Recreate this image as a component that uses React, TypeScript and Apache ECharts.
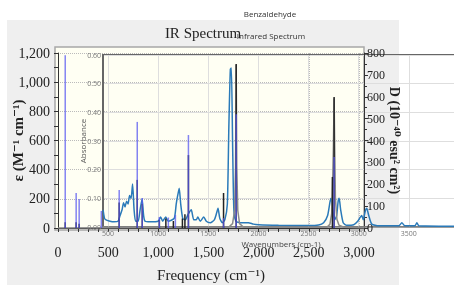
import React, { useEffect, useRef } from 'react';
import * as echarts from 'echarts';

// Calculated stick spectrum: molar absorptivity ε (left axis)
const epsFreqs = [72, 181, 211, 610, 790, 840, 1010, 1075, 1150, 1240, 1265, 1300, 1650, 1776, 2735, 2752];
const epsValues = [40, 40, 30, 175, 330, 165, 55, 65, 48, 65, 95, 500, 240, 1125, 350, 898];

// Calculated stick spectrum: dipole strength D (right axis)
const dipFreqs = [72, 181, 211, 432, 610, 790, 840, 1010, 1100, 1170, 1300, 1650, 1776, 2752];
const dipValues = [790, 160, 133, 78, 174, 485, 137, 50, 48, 60, 425, 45, 520, 325];

// Broadened calculated spectrum (ε)
const calcFreqs = [0, 1700, 1740, 1760, 1770, 1776, 1782, 1792, 1810, 1850, 2680, 2710, 2728, 2738, 2745, 2752, 2758, 2765, 2780, 2800, 2850, 3050];
const calcEps = [0, 5, 30, 120, 420, 1120, 420, 120, 30, 5, 5, 25, 100, 330, 560, 890, 560, 200, 60, 20, 5, 0];

// Experimental IR spectrum of benzaldehyde (absorbance)
const irFreqs = [451, 465, 480, 520, 560, 600, 620, 640, 655, 670, 685, 700, 715, 730, 745, 760, 775, 800, 820, 840, 855, 870, 920, 1000, 1025, 1045, 1075, 1100, 1160, 1180, 1195, 1210, 1225, 1245, 1270, 1300, 1330, 1355, 1380, 1395, 1420, 1455, 1480, 1520, 1560, 1580, 1597, 1615, 1640, 1665, 1690, 1705, 1720, 1730, 1742, 1755, 1775, 1820, 1900, 1950, 2000, 2200, 2500, 2600, 2650, 2690, 2715, 2725, 2740, 2760, 2780, 2795, 2805, 2820, 2845, 2880, 2950, 2990, 3030, 3045, 3065, 3080, 3100, 3130, 3200, 3400, 3430, 3460, 3560, 3580, 3600, 3800, 4000];
const irAbs = [0.06, 0.03, 0.025, 0.02, 0.018, 0.02, 0.04, 0.06, 0.085, 0.07, 0.09, 0.08, 0.11, 0.1, 0.15, 0.06, 0.02, 0.02, 0.06, 0.098, 0.04, 0.02, 0.018, 0.02, 0.035, 0.02, 0.035, 0.02, 0.03, 0.08, 0.11, 0.135, 0.08, 0.03, 0.025, 0.045, 0.06, 0.025, 0.025, 0.035, 0.02, 0.035, 0.02, 0.015, 0.025, 0.045, 0.065, 0.03, 0.015, 0.025, 0.08, 0.35, 0.55, 0.555, 0.3, 0.06, 0.02, 0.015, 0.015, 0.01, 0.008, 0.006, 0.005, 0.007, 0.015, 0.04, 0.09, 0.1, 0.06, 0.025, 0.04, 0.09, 0.1, 0.06, 0.015, 0.006, 0.008, 0.02, 0.04, 0.025, 0.055, 0.065, 0.04, 0.01, 0.004, 0.004, 0.015, 0.004, 0.004, 0.015, 0.004, 0.003, 0.003];

const SERIF = '"Liberation Serif", "DejaVu Serif", serif';
const SANS = '"Open Sans", "Noto Sans", sans-serif';

const stickRender = (color: string, width: number, opacity: number) => (_p: any, api: any) => {
  const x = api.value(0);
  const y = api.value(1);
  const base = api.coord([x, 0]);
  const top = api.coord([x, y]);
  return {
    type: 'line',
    shape: { x1: base[0], y1: base[1], x2: top[0], y2: top[1] },
    style: { stroke: color, lineWidth: width, opacity },
  };
};

const comma = (v: number) => v.toLocaleString('en-US');

export default function App() {
  const ref = useRef<HTMLDivElement>(null);
  useEffect(() => {
    if (!ref.current) return;
    const chart = echarts.init(ref.current, undefined, { renderer: 'svg' });
    chart.setOption({
      animation: false,
      graphic: [
        { type: 'rect', z: -10, silent: true, shape: { x: 7, y: 20, width: 392, height: 265 }, style: { fill: '#efefef' } },
        { type: 'rect', z: -9, silent: true, shape: { x: 55, y: 47, width: 309, height: 183 }, style: { fill: '#fffff3', stroke: '#a8a8a8', lineWidth: 1.5 } },
        { type: 'text', z: 10, x: 203, y: 33, style: { text: 'IR Spectrum', fontFamily: SERIF, fontSize: 15, fill: '#222', align: 'center', verticalAlign: 'middle' } },
        { type: 'text', z: 10, x: 270, y: 13, style: { text: 'Benzaldehyde', fontFamily: SANS, fontSize: 8, fill: '#333', align: 'center', verticalAlign: 'middle' } },
        { type: 'text', z: 10, x: 271, y: 35, style: { text: 'Infrared Spectrum', fontFamily: SANS, fontSize: 8, fill: '#333', align: 'center', verticalAlign: 'middle' } },
      ],
      grid: [
        { left: 58, top: 53, width: 306, height: 175, outerBoundsMode: 'none', containLabel: false },
        { left: 103, top: 55, width: 356, height: 172, outerBoundsMode: 'none', containLabel: false, show: true, borderColor: '#666', borderWidth: 2, backgroundColor: 'transparent' },
      ],
      xAxis: [
        {
          gridIndex: 0, type: 'value', min: 0, max: 3050, interval: 500, offset: 9,
          axisLine: { show: true, lineStyle: { color: '#333', width: 1 } },
          axisTick: { show: true, length: 4, lineStyle: { color: '#333' } },
          minorTick: { show: true, splitNumber: 5, length: 4, lineStyle: { color: '#333' } },
          axisLabel: { fontFamily: SERIF, fontSize: 14, color: '#222', margin: 8, formatter: (v: number) => (v % 500 === 0 ? comma(v) : '') },
          splitLine: { show: true, lineStyle: { type: 'dotted', color: '#bbb' } },
          name: 'Frequency (cm⁻¹)', nameLocation: 'middle', nameGap: 30, nameMoveOverlap: false,
          nameTextStyle: { fontFamily: SERIF, fontSize: 15, color: '#222' },
        },
        {
          gridIndex: 1, type: 'value', min: 450, max: 4000, splitNumber: 7,
          axisLine: { show: true, lineStyle: { color: '#888', width: 1.5 } },
          axisTick: { show: false },
          axisLabel: { fontFamily: SANS, fontSize: 7, color: '#777', margin: 3, showMinLabel: false, showMaxLabel: false, formatter: (v: number) => (v % 500 === 0 && v < 4000 ? String(v) : '') },
          splitLine: { show: true, lineStyle: { color: '#dedede' } },
          name: 'Wavenumbers (cm-1)', nameLocation: 'middle', nameGap: 12, nameMoveOverlap: false,
          nameTextStyle: { fontFamily: SANS, fontSize: 8, color: '#444' },
        },
      ],
      yAxis: [
        {
          gridIndex: 0, type: 'value', min: 0, max: 1200, interval: 200, position: 'left', offset: 5,
          axisLine: { show: true, lineStyle: { color: '#333' } },
          axisTick: { show: true, length: 4, lineStyle: { color: '#333' } },
          minorTick: { show: true, splitNumber: 2, length: 4, lineStyle: { color: '#333' } },
          axisLabel: { fontFamily: SERIF, fontSize: 14, color: '#222', margin: 3, formatter: (v: number) => comma(v) },
          splitLine: { show: true, lineStyle: { type: 'dotted', color: '#bbb' } },
          name: 'ε (M⁻¹ cm⁻¹)', nameLocation: 'middle', nameRotate: 90, nameGap: 28, nameMoveOverlap: false,
          nameTextStyle: { fontFamily: SERIF, fontSize: 15, fontWeight: 'bold', color: '#222' },
        },
        {
          gridIndex: 0, type: 'value', min: 0, max: 800, interval: 100, position: 'right',
          axisLine: { show: true, lineStyle: { color: '#333' } },
          axisTick: { show: true, length: 4, lineStyle: { color: '#333' } },
          minorTick: { show: true, splitNumber: 2, length: 3, lineStyle: { color: '#333' } },
          axisLabel: { fontFamily: SERIF, fontSize: 12, color: '#222', margin: 3 },
          splitLine: { show: false },
          name: 'D (10⁻⁴⁰ esu² cm²)', nameLocation: 'middle', nameRotate: -90, nameGap: 23, nameMoveOverlap: false,
          nameTextStyle: { fontFamily: SERIF, fontSize: 14, fontWeight: 'bold', color: '#222' },
        },
        {
          gridIndex: 1, type: 'value', min: 0, max: 0.6, interval: 0.1,
          axisLine: { show: true, lineStyle: { color: '#666', width: 2 } },
          axisTick: { show: false },
          axisLabel: { fontFamily: SANS, fontSize: 7, color: '#777', margin: 2, formatter: (v: number) => v.toFixed(2) },
          splitLine: { show: true, lineStyle: { color: '#dedede' } },
          name: 'Absorbance', nameLocation: 'middle', nameRotate: 90, nameGap: 17, nameMoveOverlap: false,
          nameTextStyle: { fontFamily: SANS, fontSize: 8, color: '#555' },
        },
      ],
      series: [
        {
          type: 'line', xAxisIndex: 1, yAxisIndex: 2, symbol: 'none', smooth: 0.2,
          data: irFreqs.map((f, i) => [f, irAbs[i]]),
          lineStyle: { color: '#2a7ab9', width: 1.5 }, z: 3,
        },
        {
          type: 'line', xAxisIndex: 0, yAxisIndex: 0, symbol: 'none',
          data: calcFreqs.map((f, i) => [f, calcEps[i]]),
          lineStyle: { color: '#8a8a8a', width: 1.5 }, z: 4,
        },
        {
          type: 'custom', xAxisIndex: 0, yAxisIndex: 0, z: 5,
          renderItem: stickRender('#222', 1.5, 1),
          encode: { x: 0, y: 1 },
          data: epsFreqs.map((f, i) => [f, epsValues[i]]),
        },
        {
          type: 'custom', xAxisIndex: 0, yAxisIndex: 1, z: 6,
          renderItem: stickRender('#5a5af0', 1.5, 0.75),
          encode: { x: 0, y: 1 },
          data: dipFreqs.map((f, i) => [f, dipValues[i]]),
        },
      ],
    });
    return () => chart.dispose();
  }, []);
  return <div ref={ref} style={{ position: 'fixed', left: 0, top: 0, width: 454, height: 287 }} />;
}
